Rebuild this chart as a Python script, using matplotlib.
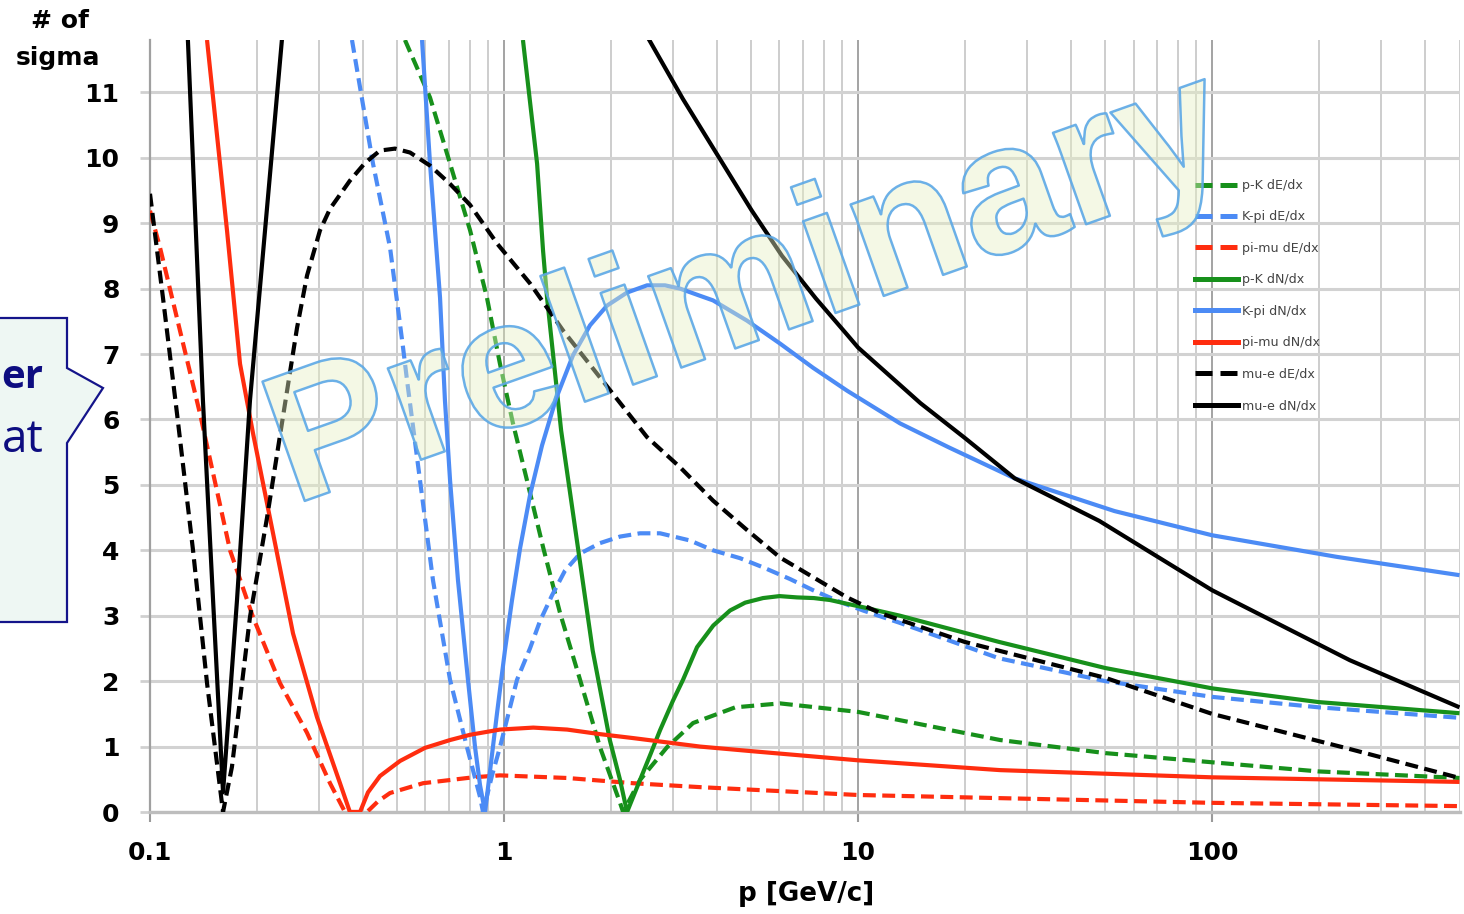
import numpy as np
import matplotlib
matplotlib.use("Agg")
import matplotlib.pyplot as plt
from matplotlib.lines import Line2D
from matplotlib.patches import Polygon, PathPatch
from matplotlib.textpath import TextPath
from matplotlib.font_manager import FontProperties
from matplotlib.transforms import Affine2D

nan = np.nan

# separation power (# of sigma) vs momentum p [GeV/c]
pk_de_p = [0.525, 0.618, 0.704, 0.802, 0.895, 0.974, 1.06, 1.161, 1.289, 1.44, 1.64, 1.867, 2.127, 2.17,
           2.422, 2.887, 3.42, 4.5, 6.02, 10, 25.2, 50, 100, 200, 500]
pk_de_s = [11.8, 10.92, 9.91, 8.89, 7.86, 6.85, 5.94, 5.07, 4.05, 3.04, 2.02, 0.99, 0.14, 0.0,
           0.49, 0.99, 1.36, 1.6, 1.66, 1.53, 1.1, 0.9, 0.76, 0.62, 0.52]

kpi_de_p = [0.372, 0.4265, 0.4764, 0.5185, 0.5321, 0.579, 0.6301, 0.704, 0.786, 0.8555, 0.8726,
            0.925, 0.974, 1.088, 1.184, 1.264, 1.366, 1.487, 1.64, 1.867, 2.127, 2.422, 2.759, 3.353,
            3.894, 4.64, 5.391, 6.43, 7.463, 8.9, 10.33, 13.14, 25, 50, 100, 200, 500]
kpi_de_s = [11.8, 9.91, 8.63, 7.1, 6.6, 5.07, 3.54, 2.02, 0.99, 0.23, 0.0,
            0.56, 0.99, 2.02, 2.5, 2.92, 3.31, 3.69, 3.95, 4.11, 4.21, 4.26, 4.26, 4.15,
            4.0, 3.88, 3.74, 3.56, 3.39, 3.21, 3.08, 2.89, 2.35, 2.0, 1.76, 1.6, 1.44]

pimu_de_p = [0.1, 0.1067, 0.1215, 0.1384, 0.1683, 0.1954, 0.2329, 0.2777, 0.3225, 0.3554, 0.4102,
             0.44, 0.4764, 0.5905, 0.8175, 0.974, 1.507, 2.314, 3.579, 10, 100, 500]
pimu_de_s = [9.19, 8.63, 7.36, 6.09, 4.0, 2.98, 1.97, 1.21, 0.44, 0.0, 0.0,
             0.16, 0.29, 0.44, 0.53, 0.56, 0.52, 0.44, 0.38, 0.26, 0.14, 0.09]

pk_dn_p = [1.131, 1.24, 1.289, 1.323, 1.45, 1.78, 1.99, 2.127, 2.226, 2.422, 2.6, 2.759, 3.0, 3.203,
           3.51, 3.9, 4.35, 4.8, 5.391, 6.0, 6.726, 7.5, 8.336, 9.0, 10.33, 13.14, 25, 50, 100, 200, 500]
pk_dn_s = [11.8, 9.91, 8.58, 7.86, 5.83, 2.47, 1.1, 0.49, 0.0, 0.49, 0.9, 1.25, 1.7, 2.02,
           2.52, 2.85, 3.08, 3.2, 3.27, 3.3, 3.28, 3.27, 3.24, 3.2, 3.13, 3.0, 2.6, 2.2, 1.89, 1.68, 1.51]

kpi_dn_p = [0.5867, 0.618, 0.6596, 0.681, 0.704, 0.7413, 0.791, 0.8283, 0.8555, 0.884, 0.9555,
            1.006, 1.0535, 1.11, 1.184, 1.28, 1.403, 1.566, 1.75, 1.954, 2.226, 2.535, 2.85, 3.142,
            3.579, 3.894, 4.858, 6.021, 7.463, 9.31, 13.14, 18.1, 27.7, 53, 100, 225, 500]
kpi_dn_s = [11.8, 9.91, 7.86, 6.29, 5.07, 3.54, 2.02, 0.99, 0.41, 0.0, 1.51,
            2.47, 3.24, 4.03, 4.84, 5.6, 6.32, 6.98, 7.44, 7.74, 7.94, 8.05, 8.05, 8.0,
            7.89, 7.82, 7.51, 7.16, 6.79, 6.44, 5.94, 5.57, 5.1, 4.6, 4.23, 3.9, 3.62]

pimu_dn_p = [0.1449, 0.165, 0.1796, 0.1954, 0.2226, 0.2535, 0.2963, 0.3441, 0.367, 0.392, 0.4128,
             0.4464, 0.5085, 0.598, 0.704, 0.8017, 0.974, 1.21, 1.507, 1.867, 2.314, 3.579, 5.0, 10,
             25.2, 100, 500]
pimu_dn_s = [11.8, 8.89, 6.85, 5.79, 4.26, 2.73, 1.45, 0.44, 0.0, 0.0, 0.3,
             0.55, 0.78, 0.98, 1.1, 1.18, 1.26, 1.29, 1.26, 1.19, 1.13, 1.0, 0.93, 0.79,
             0.64, 0.53, 0.46]

mue_de_p = [0.1, 0.1088, 0.1192, 0.1323, 0.1449, 0.1608, 0.1704, 0.1916, 0.2141, 0.2376, 0.2602,
            0.2777, 0.3021, 0.3225, 0.367, 0.4047, 0.4464, 0.4922, 0.5426, 0.618, 0.704, 0.8017,
            0.9555, 1.184, 1.468, 1.831, 2.535, 3.142, 3.894, 4.858, 6.021, 7.463, 9.31, 11.54,
            20, 50, 100, 250, 500]
mue_de_s = [9.45, 7.86, 6.09, 4.0, 1.97, 0.0, 0.69, 2.98, 4.5, 6.05, 7.4,
            8.2, 8.89, 9.22, 9.65, 9.92, 10.11, 10.14, 10.08, 9.88, 9.6, 9.28,
            8.69, 8.08, 7.36, 6.7, 5.73, 5.27, 4.76, 4.31, 3.89, 3.59, 3.28, 3.04,
            2.6, 2.05, 1.5, 0.95, 0.52]

mue_dn_p = [0.1275, 0.1411, 0.1507, 0.1608, 0.1761, 0.1916, 0.2376, nan,
            2.45, 3.2, 4.0, 5.0, 6.1, 7.6, 9.3, 10, 15, 20, 27.7, 48, 100, 245, 500]
mue_dn_s = [12.0, 6.29, 3.24, 0.3, 3.24, 6.29, 12.0, nan,
            12.0, 10.9, 10.05, 9.2, 8.5, 7.85, 7.3, 7.1, 6.25, 5.72, 5.1, 4.45, 3.39, 2.32, 1.6]

GREEN = "#17901b"
BLUE = "#4c8bf5"
RED = "#ff2d0f"
BLACK = "#000000"
DASH = (0, (3.1, 1.55))

series = [
    ("p-K dE/dx", pk_de_p, pk_de_s, GREEN, DASH),
    ("K-pi dE/dx", kpi_de_p, kpi_de_s, BLUE, DASH),
    ("pi-mu dE/dx", pimu_de_p, pimu_de_s, RED, DASH),
    ("p-K dN/dx", pk_dn_p, pk_dn_s, GREEN, "-"),
    ("K-pi dN/dx", kpi_dn_p, kpi_dn_s, BLUE, "-"),
    ("pi-mu dN/dx", pimu_dn_p, pimu_dn_s, RED, "-"),
    ("mu-e dE/dx", mue_de_p, mue_de_s, BLACK, DASH),
    ("mu-e dN/dx", mue_dn_p, mue_dn_s, BLACK, "-"),
]

W, H = 1464, 914
fig = plt.figure(figsize=(W / 100, H / 100), dpi=100)
fig.patch.set_facecolor("white")


def fx(x):
    return x / W


def fy(y):
    return 1 - y / H


ax = fig.add_axes([fx(150), fy(812), fx(1459.5) - fx(150), fy(40) - fy(812)])
ax.set_xscale("log")
ax.set_xlim(0.1, 500)
ax.set_ylim(0, 11.8)

for name, p, s, c, ls in series:
    ax.plot(p, s, color=c, lw=3.0, ls=ls, solid_capstyle="butt", dash_capstyle="butt",
            solid_joinstyle="round", zorder=3)

tick_font = dict(family="DejaVu Sans", weight="bold", size=18)
ax.set_xticks([0.1, 1, 10, 100])
ax.set_xticklabels(["0.1", "1", "10", "100"], **tick_font)
minors = [m * 10.0 ** e for e in range(-1, 3) for m in range(2, 10) if m * 10.0 ** e <= 500]
ax.set_xticks(minors, minor=True)
ax.set_yticks(range(0, 12))
ax.set_yticklabels([str(i) for i in range(0, 12)], **tick_font)

ax.tick_params(axis="x", which="major", length=7, width=1.5, color="#9a9a9a", pad=14)
ax.tick_params(axis="x", which="minor", length=0)
ax.tick_params(axis="y", which="major", length=7, width=2, color="#d0d0d0", pad=15)

ax.xaxis.grid(True, which="major", color="#8a8a8a", lw=1.1, zorder=0)
ax.xaxis.grid(True, which="minor", color="#c9c9c9", lw=1.3, zorder=0)
ax.yaxis.grid(True, which="major", color="#d2d2d2", lw=2.2, zorder=0)
ax.set_axisbelow(True)

for side in ("top", "right"):
    ax.spines[side].set_visible(False)
ax.spines["left"].set_color("#a0a0a0")
ax.spines["left"].set_linewidth(1.6)
ax.spines["bottom"].set_color("#bdbdbd")
ax.spines["bottom"].set_linewidth(2.4)

handles = []
for name, p, s, c, ls in series:
    style = (0, (3.4, 1.6)) if ls != "-" else "-"
    handles.append(Line2D([0], [0], color=c, lw=3.6, ls=style, dash_capstyle="butt"))
ax.legend(handles, [sr[0] for sr in series], loc="upper left",
          bbox_to_anchor=(fx(1195), fy(179)), bbox_transform=fig.transFigure,
          frameon=False, borderpad=0, borderaxespad=0, handlelength=3.4,
          handletextpad=0.3, labelspacing=1.46,
          prop=FontProperties(family="DejaVu Sans", size=9.1), labelcolor="#444444")

fig.text(fx(60), fy(21), "# of", ha="center", va="center", **tick_font)
fig.text(fx(58), fy(58), "sigma", ha="center", va="center", **tick_font)
fig.text(fx(806), fy(894), "p [GeV/c]", ha="center", va="center",
         family="DejaVu Sans", weight="bold", size=18.8)

# overlay in pixel units for the callout and the watermark
ov = fig.add_axes([0, 0, 1, 1], zorder=10)
ov.set_xlim(0, W)
ov.set_ylim(0, H)
ov.axis("off")
ov.patch.set_alpha(0)

box = [(-5, 318), (67, 318), (67, 368), (103, 388), (67, 443), (67, 622), (-5, 622)]
ov.add_patch(Polygon([(x, H - y) for x, y in box], closed=True,
                     facecolor="#eef7f3", edgecolor="#14148a", lw=1.6))
ov.text(1, H - 377, "er", ha="left", va="center", color="#0d0d80",
        family="Open Sans", weight="bold", size=29)
ov.text(2, H - 440, "at", ha="left", va="center", color="#0d0d80",
        family="Open Sans", size=33)

wm = TextPath((0, 0), "Preliminary", size=184,
              prop=FontProperties(family="Liberation Sans", weight="bold"))
bb = wm.get_extents()
tr = (Affine2D().translate(-(bb.x0 + bb.x1) / 2, -(bb.y0 + bb.y1) / 2)
      .rotate_deg(19.5).translate(755, H - 291))
ov.add_patch(PathPatch(wm, transform=tr + ov.transData, joinstyle="round",
                       facecolor=(0.90, 0.94, 0.76, 0.42), edgecolor=(0.36, 0.66, 0.90, 0.9), lw=1.8))

fig.savefig("out.png", dpi=100)
